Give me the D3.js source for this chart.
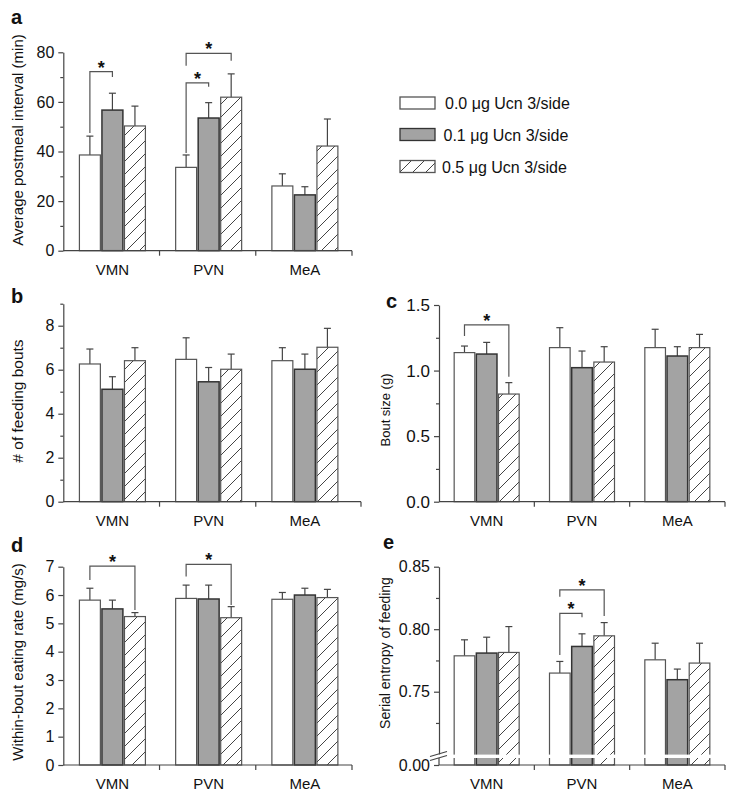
<!DOCTYPE html>
<html><head><meta charset="utf-8">
<script src="https://cdn.jsdelivr.net/npm/d3@7"></script>
<style>
body{margin:0;background:#fff}
svg{display:block}
text{font-family:"Liberation Sans",Arial,sans-serif;fill:#111}
</style>
</head><body>
<svg id="chart" width="738" height="799"></svg>
<script>
// ---------------- DATA ----------------
const categories = ["VMN", "PVN", "MeA"];
const doseLabels = ["0.0 \u03BCg Ucn 3/side", "0.1 \u03BCg Ucn 3/side", "0.5 \u03BCg Ucn 3/side"];

// a: Average postmeal interval (min)  [category][dose]
const intervalMean = [[38.6, 56.7, 50.3], [33.6, 53.5, 61.9], [26.1, 22.5, 42.2]];
const intervalSem  = [[7.6, 6.8, 8.0], [5.0, 6.2, 9.4], [4.9, 3.3, 10.9]];
const intervalTicks = [0, 20, 40, 60, 80];

// b: # of feeding bouts
const boutsMean = [[6.26, 5.11, 6.41], [6.47, 5.45, 6.02], [6.41, 6.02, 7.02]];
const boutsSem  = [[0.68, 0.57, 0.59], [0.98, 0.65, 0.69], [0.59, 0.69, 0.86]];
const boutsTicks = [0, 2, 4, 6, 8];

// c: Bout size (g)
const sizeMean = [[1.137, 1.126, 0.821], [1.175, 1.022, 1.065], [1.175, 1.111, 1.175]];
const sizeSem  = [[0.050, 0.089, 0.087], [0.152, 0.127, 0.117], [0.140, 0.071, 0.101]];
const sizeTicks = [0.0, 0.5, 1.0, 1.5];

// d: Within-bout eating rate (mg/s)
const rateMean = [[5.82, 5.51, 5.24], [5.88, 5.86, 5.20], [5.85, 6.00, 5.91]];
const rateSem  = [[0.42, 0.31, 0.14], [0.47, 0.49, 0.39], [0.24, 0.24, 0.29]];
const rateTicks = [0, 1, 2, 3, 4, 5, 6, 7];

// e: Serial entropy of feeding
const entropyMean = [[0.7787, 0.7809, 0.7814], [0.7649, 0.7862, 0.7947], [0.7755, 0.7596, 0.7729]];
const entropySem  = [[0.0128, 0.0127, 0.0207], [0.0093, 0.0101, 0.0106], [0.0133, 0.0085, 0.0159]];
const entropyTicks = [0.75, 0.80, 0.85];

// significance brackets: [category index, from dose, to dose, top value, left-leg end, right-leg end]
const intervalSig = [[0, 0, 1, 72.2, 47.5, 70.0], [1, 0, 1, 67.7, 39.4, 66.1], [1, 0, 2, 79.6, 74.6, 76.6]];
const sizeSig = [[0, 0, 2, 1.348, 1.264, 0.953]];
const rateSig = [[0, 0, 2, 7.02, 6.53, 5.47], [1, 0, 2, 7.08, 6.65, 5.65]];
const entropySig = [[1, 0, 1, 0.8127, 0.7794, 0.8095], [1, 0, 2, 0.8314, 0.826, 0.8106]];

// ---------------- DRAW ----------------
const svg = d3.select("#chart");
const defs = svg.append("defs");
const pat = defs.append("pattern").attr("id", "hatch")
  .attr("patternUnits", "userSpaceOnUse").attr("width", 13).attr("height", 13);
pat.append("path").attr("d", "M-2,2 L2,-2 M0,13 L13,0 M11,15 L15,11")
  .attr("stroke", "#444").attr("stroke-width", 1);

const fills = ["#ffffff", "#a3a3a3", "url(#hatch)"];
const strokes = ["#555", "#333", "#555"];
const axisColor = "#444";

function styleAxis(g, fs) {
  g.selectAll("path,line").attr("stroke", axisColor).attr("stroke-width", 1.2);
  g.selectAll("text").attr("font-size", fs || 16).attr("fill", "#111")
    .attr("font-family", "'Liberation Sans',Arial,sans-serif");
}

function drawPanel(cfg) {
  const g = svg.append("g");
  const x = d3.scaleBand().domain(categories).range([cfg.left, cfg.right]);
  const xs = d3.scaleBand().domain([0, 1, 2]).range([-cfg.group / 2, cfg.group / 2]).paddingInner(0.07);
  const y = cfg.y;
  const base = cfg.base;

  categories.forEach((c, ci) => {
    [0, 1, 2].forEach(di => {
      const m = cfg.mean[ci][di], s = cfg.sem[ci][di];
      const bx = x(c) + x.bandwidth() / 2 + xs(di) + cfg.shift;
      const cx = bx + xs.bandwidth() / 2;
      g.append("line").attr("x1", cx).attr("x2", cx).attr("y1", y(m)).attr("y2", y(m + s))
        .attr("stroke", "#444").attr("stroke-width", 1.2);
      g.append("line").attr("x1", cx - 3.5).attr("x2", cx + 3.5).attr("y1", y(m + s)).attr("y2", y(m + s))
        .attr("stroke", "#444").attr("stroke-width", 1.2);
      g.append("rect").attr("x", bx).attr("y", y(m)).attr("width", xs.bandwidth())
        .attr("height", base - y(m)).attr("fill", fills[di]).attr("stroke", strokes[di])
        .attr("stroke-width", di === 1 ? 1.5 : 1.2);
    });
  });

  (cfg.sig || []).forEach(([ci, d0, d1, top, l, r]) => {
    const c = categories[ci];
    const x0 = x(c) + x.bandwidth() / 2 + xs(d0) + xs.bandwidth() / 2 + cfg.shift;
    const x1 = x(c) + x.bandwidth() / 2 + xs(d1) + xs.bandwidth() / 2 + cfg.shift;
    g.append("path").attr("d", `M${x0},${y(l)}V${y(top)}H${x1}V${y(r)}`)
      .attr("fill", "none").attr("stroke", "#555").attr("stroke-width", 1.2);
    g.append("text").attr("x", (x0 + x1) / 2).attr("y", y(top) + 2)
      .attr("text-anchor", "middle").attr("font-size", 18).attr("font-weight", "bold").text("*");
  });

  const ya = g.append("g").attr("transform", `translate(${cfg.left},0)`)
    .call(d3.axisLeft(y).tickValues(cfg.ticks).tickFormat(d3.format(cfg.fmt))
      .tickSize(5).tickPadding(4).tickSizeOuter(0));
  styleAxis(ya, cfg.tickFs);
  if (cfg.minor) {
    const ym = g.append("g").attr("transform", `translate(${cfg.left},0)`)
      .call(d3.axisLeft(y).tickValues(cfg.minor).tickFormat("").tickSize(3).tickSizeOuter(0));
    ym.select("path").remove();
    styleAxis(ym);
  }

  g.append("line").attr("x1", cfg.left).attr("x2", cfg.axisEnd).attr("y1", base).attr("y2", base)
    .attr("stroke", axisColor).attr("stroke-width", 1.2);
  categories.forEach((c, ci) => {
    const bx = ci === categories.length - 1 ? cfg.axisEnd : x(c) + x.bandwidth();
    g.append("line").attr("x1", bx).attr("x2", bx).attr("y1", base).attr("y2", base + 5)
      .attr("stroke", axisColor).attr("stroke-width", 1.2);
    g.append("text").attr("x", x(c) + x.bandwidth() / 2 + cfg.shift).attr("y", base + 13)
      .attr("text-anchor", "middle").attr("dominant-baseline", "hanging")
      .attr("font-size", 15).text(c);
  });

  g.append("text").attr("transform", `translate(${cfg.labX},${cfg.labY}) rotate(-90)`)
    .attr("text-anchor", "middle").attr("dominant-baseline", "central")
    .attr("font-size", cfg.labFs).text(cfg.ylabel);
  g.append("text").attr("x", cfg.letterX).attr("y", cfg.letterY).attr("font-size", 20)
    .attr("font-weight", "bold").text(cfg.letter);
  return g;
}

// a
drawPanel({
  mean: intervalMean, sem: intervalSem, sig: intervalSig,
  left: 63.3, right: 352, axisEnd: 352, group: 66, shift: 1,
  y: d3.scaleLinear().domain([0, 80]).range([250.7, 52.3]), base: 250.7,
  ticks: intervalTicks, minor: [10, 30, 50, 70], fmt: "d", tickFs: 16,
  ylabel: "Average postmeal interval (min)", labX: 17, labY: 140, labFs: 15,
  letter: "a", letterX: 11, letterY: 24
});
// b
drawPanel({
  mean: boutsMean, sem: boutsSem,
  left: 63.3, right: 352, axisEnd: 361, group: 66, shift: 1,
  y: d3.scaleLinear().domain([0, 9]).range([501.7, 303.7]), base: 501.7,
  ticks: boutsTicks, minor: [1, 3, 5, 7, 9], fmt: "d", tickFs: 16,
  ylabel: "# of feeding bouts", labX: 17, labY: 401, labFs: 15.5,
  letter: "b", letterX: 11, letterY: 303
});
// c
drawPanel({
  mean: sizeMean, sem: sizeSem, sig: sizeSig,
  left: 439, right: 725, axisEnd: 725, group: 65, shift: 0,
  y: d3.scaleLinear().domain([0, 1.5]).range([501.7, 305]), base: 501.7,
  ticks: sizeTicks, minor: [0.25, 0.75, 1.25], fmt: ".1f", tickFs: 17,
  ylabel: "Bout size (g)", labX: 385, labY: 410, labFs: 13,
  letter: "c", letterX: 386, letterY: 308
});
// d
drawPanel({
  mean: rateMean, sem: rateSem, sig: rateSig,
  left: 63.3, right: 352, axisEnd: 352, group: 66, shift: 1,
  y: d3.scaleLinear().domain([0, 7]).range([765, 566.7]), base: 765,
  ticks: rateTicks, minor: null, fmt: "d", tickFs: 16,
  ylabel: "Within-bout eating rate (mg/s)", labX: 17, labY: 662, labFs: 15,
  letter: "d", letterX: 11, letterY: 552
});
// e (broken axis)
const eG = drawPanel({
  mean: entropyMean, sem: entropySem, sig: entropySig,
  left: 439, right: 725, axisEnd: 725, group: 65, shift: 0,
  y: d3.scaleLinear().domain([0.70, 0.85]).range([754.2, 566.7]), base: 765,
  ticks: entropyTicks, minor: [0.725, 0.775, 0.825], fmt: ".2f", tickFs: 16,
  ylabel: "Serial entropy of feeding", labX: 385, labY: 653, labFs: 14,
  letter: "e", letterX: 383, letterY: 549
});
eG.append("rect").attr("x", 433).attr("y", 754.6).attr("width", 294).attr("height", 3.4).attr("fill", "#fff");
eG.append("line").attr("x1", 439).attr("x2", 439).attr("y1", 758).attr("y2", 765)
  .attr("stroke", axisColor).attr("stroke-width", 1.2);
eG.append("path").attr("d", "M430,756.5L447,751.5M430,760.5L447,755.5")
  .attr("stroke", "#444").attr("stroke-width", 1.2).attr("fill", "none");
const zeroAxis = eG.append("g").attr("transform", "translate(439,0)")
  .call(d3.axisLeft(d3.scaleLinear().domain([0, 0.01]).range([765, 755])).tickValues([0])
    .tickFormat(d3.format(".2f")).tickSize(5).tickPadding(4).tickSizeOuter(0));
zeroAxis.select("path").remove();
styleAxis(zeroAxis, 16);

// legend
const legend = svg.append("g");
doseLabels.forEach((lab, i) => {
  const ly = [97, 128.5, 160.5][i];
  legend.append("rect").attr("x", 400).attr("y", ly).attr("width", 35).attr("height", 12)
    .attr("fill", fills[i]).attr("stroke", strokes[i]).attr("stroke-width", 1.3);
  legend.append("text").attr("x", 445 - i * 1.5).attr("y", ly + 12).attr("font-size", 16).text(lab);
});
</script>
</body></html>
